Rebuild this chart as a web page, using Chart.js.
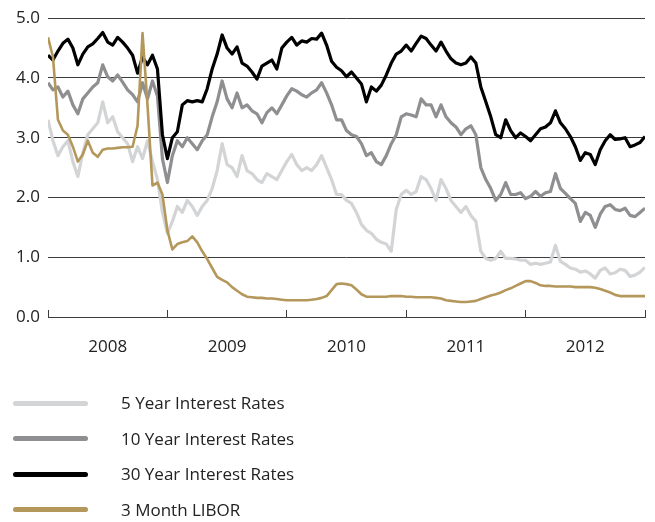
<!DOCTYPE html>
<html><head><meta charset="utf-8">
<script src="https://cdn.jsdelivr.net/npm/chart.js@4"></script>
<style>
html,body{margin:0;padding:0;background:#fff;}
#wrap{position:relative;width:655px;height:522px;overflow:hidden;}
#c{position:absolute;left:0;top:0;}
#legend{position:absolute;left:0;top:0;width:655px;height:522px;font-family:"Open Sans",sans-serif;font-size:17px;color:#222;}
.row{position:absolute;left:0;width:655px;height:20px;}
.sw{position:absolute;left:13px;top:7.5px;width:75px;height:5px;border-radius:3px;}
.tx{position:absolute;left:121px;top:0;white-space:nowrap;line-height:20px;}
</style></head>
<body>
<div id="wrap"><canvas id="c" width="655" height="365"></canvas><div id="legend"></div></div>
<script>
// ---- data (semi-monthly readings, Jan 2008 – Dec 2012) ----
const years = ['2008', '2009', '2010', '2011', '2012'];
const stepsPerYear = 24;
const seriesNames = ['5 Year Interest Rates', '10 Year Interest Rates', '30 Year Interest Rates', '3 Month LIBOR'];

const rate5y = [
  3.30,2.95,2.70,2.85,2.95,2.60,2.35,2.75,3.05,3.15,3.25,3.60,3.25,3.35,3.10,3.00,2.90,2.60,2.85,2.65,2.95,2.60,2.30,1.75,
  1.40,1.60,1.85,1.75,1.95,1.85,1.70,1.85,1.95,2.15,2.45,2.90,2.55,2.50,2.35,2.70,2.45,2.40,2.30,2.25,2.40,2.35,2.30,2.45,
  2.60,2.72,2.55,2.45,2.50,2.45,2.55,2.70,2.50,2.30,2.05,2.05,1.95,1.90,1.75,1.55,1.45,1.40,1.30,1.25,1.22,1.10,1.80,2.05,
  2.12,2.05,2.10,2.35,2.30,2.15,1.95,2.30,2.15,1.95,1.85,1.75,1.85,1.70,1.60,1.10,0.98,0.95,0.98,1.10,0.98,0.98,0.97,0.95,
  0.95,0.88,0.90,0.88,0.90,0.92,1.20,0.93,0.88,0.82,0.80,0.75,0.77,0.72,0.65,0.78,0.82,0.72,0.74,0.80,0.78,0.68,0.70,0.75,0.83
];
const rate10y = [
  3.92,3.80,3.85,3.68,3.78,3.55,3.40,3.65,3.75,3.85,3.92,4.22,4.02,3.95,4.05,3.93,3.80,3.72,3.60,3.92,3.65,3.95,3.70,2.65,
  2.25,2.70,2.95,2.85,3.00,2.90,2.80,2.95,3.05,3.35,3.60,3.95,3.65,3.50,3.75,3.50,3.55,3.45,3.40,3.25,3.42,3.50,3.40,3.55,
  3.70,3.82,3.78,3.72,3.68,3.75,3.80,3.92,3.75,3.55,3.30,3.30,3.12,3.05,3.02,2.90,2.70,2.75,2.60,2.55,2.70,2.90,3.05,3.35,
  3.40,3.38,3.35,3.65,3.55,3.55,3.35,3.55,3.35,3.25,3.18,3.05,3.15,3.20,3.05,2.50,2.30,2.15,1.95,2.05,2.25,2.05,2.05,2.08,
  1.98,2.02,2.10,2.02,2.08,2.10,2.40,2.15,2.07,1.98,1.90,1.60,1.75,1.70,1.50,1.72,1.85,1.88,1.80,1.78,1.82,1.70,1.68,1.75,1.82
];
const rate30y = [
  4.38,4.30,4.45,4.58,4.65,4.50,4.22,4.40,4.52,4.57,4.66,4.76,4.60,4.55,4.68,4.60,4.50,4.38,4.08,4.35,4.22,4.38,4.15,3.05,
  2.65,3.00,3.10,3.55,3.62,3.60,3.62,3.60,3.82,4.15,4.40,4.72,4.50,4.40,4.52,4.25,4.20,4.10,3.98,4.20,4.25,4.30,4.15,4.50,
  4.60,4.68,4.55,4.62,4.60,4.66,4.65,4.75,4.55,4.28,4.18,4.12,4.02,4.10,4.00,3.90,3.60,3.85,3.78,3.88,4.05,4.25,4.40,4.45,
  4.55,4.45,4.58,4.70,4.66,4.55,4.45,4.60,4.45,4.32,4.25,4.22,4.25,4.35,4.25,3.85,3.60,3.35,3.05,3.00,3.30,3.12,3.00,3.08,
  3.02,2.95,3.05,3.15,3.18,3.25,3.45,3.25,3.15,3.02,2.85,2.62,2.75,2.72,2.55,2.80,2.95,3.05,2.97,2.98,3.00,2.85,2.88,2.92,3.02
];
const libor3m = [
  4.68,4.35,3.30,3.12,3.05,2.85,2.60,2.72,2.95,2.75,2.68,2.80,2.82,2.82,2.83,2.84,2.84,2.85,3.20,4.75,3.55,2.20,2.25,2.05,
  1.45,1.13,1.22,1.25,1.27,1.35,1.25,1.10,0.97,0.82,0.67,0.62,0.58,0.50,0.44,0.38,0.34,0.33,0.32,0.32,0.31,0.31,0.30,0.29,
  0.28,0.28,0.28,0.28,0.28,0.29,0.30,0.32,0.35,0.45,0.55,0.56,0.55,0.53,0.46,0.38,0.34,0.34,0.34,0.34,0.34,0.35,0.35,0.35,
  0.34,0.34,0.33,0.33,0.33,0.33,0.32,0.31,0.28,0.27,0.26,0.25,0.25,0.26,0.27,0.30,0.33,0.36,0.38,0.41,0.45,0.48,0.52,0.56,
  0.60,0.60,0.57,0.53,0.52,0.52,0.51,0.51,0.51,0.51,0.50,0.50,0.50,0.50,0.49,0.47,0.44,0.41,0.37,0.35,0.35,0.35,0.35,0.35,0.35
];
const yTicks = [0, 1, 2, 3, 4, 5];

// ---- build ----
const firstYear = parseInt(years[0], 10);
const toPoints = arr => arr.map((v, i) => ({ x: firstYear + i / stepsPerYear, y: v }));
const boundaries = years.map(y => parseInt(y, 10)).concat([firstYear + years.length]);
const tickPositions = [];
boundaries.forEach((b, i) => { tickPositions.push(b); if (i < years.length) tickPositions.push(b + 0.5); });

const colors = ['#d3d4d6', '#8f8f92', '#000000', '#b4975a'];
const widths = [3.2, 3.2, 3.2, 2.6];
const series = [rate5y, rate10y, rate30y, libor3m];
const drawOrder = [3, 2, 1, 0];

Chart.defaults.font.family = "'Open Sans', sans-serif";

const chart = new Chart(document.getElementById('c'), {
  type: 'line',
  data: {
    datasets: series.map((s, i) => ({
      label: seriesNames[i],
      data: toPoints(s),
      borderColor: colors[i],
      backgroundColor: colors[i],
      borderWidth: widths[i],
      pointRadius: 0,
      tension: 0,
      borderJoinStyle: 'round',
      order: drawOrder[i]
    }))
  },
  options: {
    responsive: false,
    animation: false,
    layout: { padding: { top: 16, right: 10, left: 0, bottom: 0 } },
    plugins: { legend: { display: false }, tooltip: { enabled: false } },
    scales: {
      x: {
        type: 'linear',
        min: boundaries[0],
        max: boundaries[boundaries.length - 1],
        afterBuildTicks: s => { s.ticks = tickPositions.map(v => ({ value: v })); },
        afterFit: s => { s.height = 48; s.paddingLeft = 0; s.paddingRight = 0; },
        ticks: {
          autoSkip: false, maxRotation: 0, padding: 27, color: '#222',
          font: { size: 17 },
          callback: v => Number.isInteger(v) ? '' : years[Math.floor(v) - firstYear]
        },
        grid: {
          drawOnChartArea: false, drawTicks: true, tickLength: -7, lineWidth: 1,
          color: ctx => (ctx.tick && Number.isInteger(ctx.tick.value)) ? '#3c3c3c' : 'rgba(0,0,0,0)'
        },
        border: { display: true, color: '#3c3c3c', width: 1 }
      },
      y: {
        min: yTicks[0], max: yTicks[yTicks.length - 1],
        afterBuildTicks: s => { s.ticks = yTicks.map(v => ({ value: v })); },
        afterFit: s => { s.width = 48; },
        ticks: { padding: 8, color: '#222', font: { size: 17 }, callback: v => Number(v).toFixed(1) },
        grid: { color: '#3c3c3c', lineWidth: 1, drawTicks: false },
        border: { display: false }
      }
    }
  }
});

// ---- HTML legend from the chart's datasets ----
const legendRowCenters = [403, 438.5, 474, 509.5];
const legend = document.getElementById('legend');
chart.data.datasets.forEach((ds, i) => {
  const row = document.createElement('div');
  row.className = 'row';
  row.style.top = (legendRowCenters[i] - 10) + 'px';
  const sw = document.createElement('div');
  sw.className = 'sw';
  sw.style.background = ds.borderColor;
  const tx = document.createElement('div');
  tx.className = 'tx';
  tx.textContent = ds.label;
  row.appendChild(sw); row.appendChild(tx);
  legend.appendChild(row);
});
</script>
</body></html>
